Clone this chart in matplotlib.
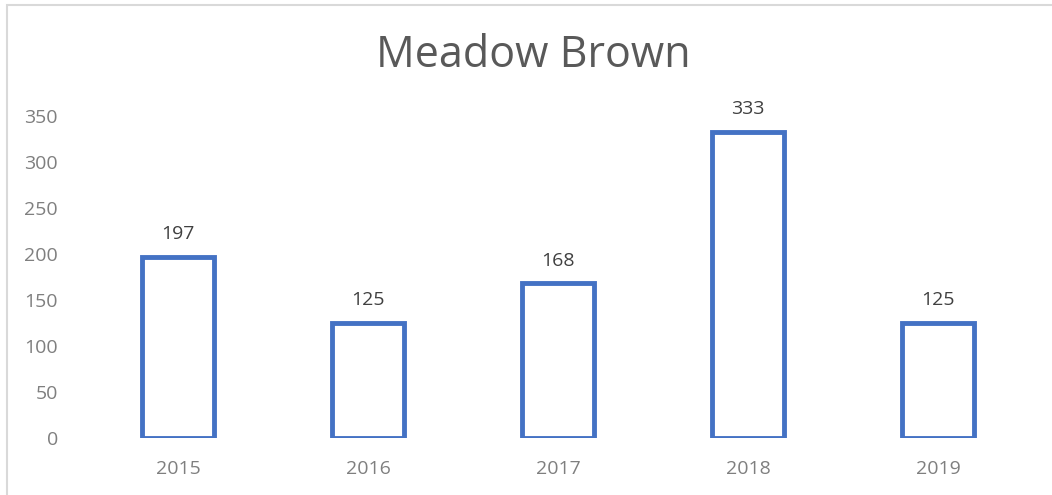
import matplotlib
matplotlib.use("Agg")
import matplotlib.pyplot as plt
from matplotlib.patches import Rectangle

years = ["2015", "2016", "2017", "2018", "2019"]
counts = [197, 125, 168, 333, 125]
yticks = [0, 50, 100, 150, 200, 250, 300, 350]

plt.rcParams['font.family'] = ['Open Sans', 'DejaVu Sans']

W, H = 1052, 495
fig = plt.figure(figsize=(W / 100, H / 100), dpi=100)

# light outer frame (chart area border)
fig.patches.append(Rectangle((7 / W, -0.1), 1.2, (H - 5) / H + 0.1, transform=fig.transFigure,
                             fill=False, edgecolor="#D9D9D9", linewidth=1.5))

left, right = 83 / W, 1033 / W
bottom, top = 1 - 438 / H, 1 - 116 / H
ax = fig.add_axes([left, bottom, right - left, top - bottom])

x = list(range(len(years)))
bars = ax.bar(x, counts, width=0.38, facecolor="white", edgecolor="#4472C4", linewidth=3.5)
ax.set_xlim(-0.5, len(years) - 0.5)
ax.set_ylim(0, 350)
ax.set_yticks(yticks)
ax.set_xticks(x)
ax.set_xticklabels(years)
for s in ax.spines.values():
    s.set_visible(False)
ax.tick_params(axis="both", length=0, colors="#7F7F7F", labelsize=14)
ax.tick_params(axis="y", pad=18)
ax.tick_params(axis="x", pad=16)

for xi, v in zip(x, counts):
    ax.annotate(str(v), (xi, v), xytext=(0, 10), textcoords="offset points",
                ha="center", va="bottom", fontsize=14, color="#404040")

fig.text(533 / W, 1 - 56 / H, "Meadow Brown", ha="center", va="center", fontsize=31, color="#595959")

fig.savefig("out.png", dpi=100)
